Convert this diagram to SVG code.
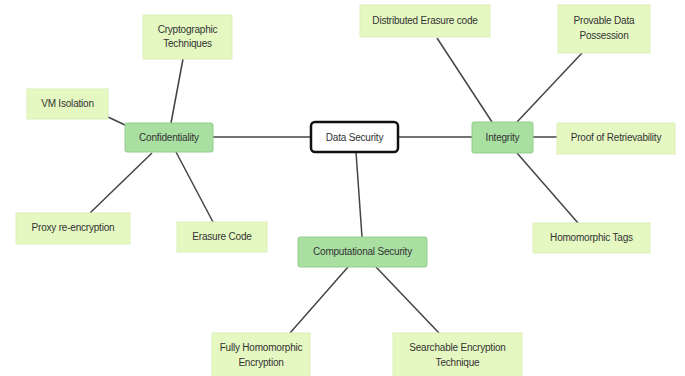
<svg xmlns="http://www.w3.org/2000/svg" width="685" height="376" viewBox="0 0 685 376">
<style>
.leaf{fill:#e5f8c2;stroke:#dcefb8;stroke-width:1}
.mid{fill:#a9e0a2;stroke:#92cc8c;stroke-width:1}
.root{fill:#fff;stroke:#111;stroke-width:2.5}
text{font-family:"Liberation Sans",Arial,sans-serif;font-size:10px;fill:#333;text-anchor:middle;letter-spacing:-0.2px}
.con line{stroke:#444;stroke-width:1.5}
</style>
<rect width="685" height="376" fill="#fff"/>
<g class="con">
<line x1="213" y1="137" x2="311" y2="137"/>
<line x1="398" y1="137" x2="472" y2="137"/>
<line x1="356" y1="152" x2="362" y2="237"/>
<line x1="171" y1="123" x2="183" y2="59"/>
<line x1="108" y1="117" x2="125" y2="125"/>
<line x1="152" y1="153" x2="90" y2="213"/>
<line x1="176" y1="152" x2="213" y2="222"/>
<line x1="348" y1="267" x2="290" y2="333"/>
<line x1="376" y1="267" x2="439" y2="333"/>
<line x1="492" y1="122" x2="437" y2="38"/>
<line x1="517" y1="122" x2="582" y2="53"/>
<line x1="533" y1="137" x2="557" y2="137"/>
<line x1="517" y1="153" x2="578" y2="223"/>
</g>
<g id="data-security"><rect class="root" x="311" y="122" width="87" height="30" rx="4"/><text x="354.5" y="141">Data Security</text></g>
<g id="confidentiality"><rect class="mid" x="125" y="123" width="88" height="29" rx="2"/><text x="169" y="141">Confidentiality</text></g>
<g id="integrity"><rect class="mid" x="472" y="122" width="61" height="31" rx="2"/><text x="502.5" y="141">Integrity</text></g>
<g id="computational-security"><rect class="mid" x="298" y="237" width="129" height="30" rx="2"/><text x="362.5" y="255">Computational Security</text></g>
<g id="cryptographic"><rect class="leaf" x="143" y="15" width="89" height="44"/><text x="187.5" y="33">Cryptographic</text><text x="187.5" y="47">Techniques</text></g>
<g id="vm-isolation"><rect class="leaf" x="27" y="89" width="81" height="30"/><text x="67.5" y="107">VM Isolation</text></g>
<g id="proxy"><rect class="leaf" x="16" y="213" width="114" height="31"/><text x="73" y="231">Proxy re-encryption</text></g>
<g id="erasure-code"><rect class="leaf" x="177" y="222" width="90" height="30"/><text x="222" y="240">Erasure Code</text></g>
<g id="fhe"><rect class="leaf" x="212" y="333" width="98" height="45"/><text x="261" y="351">Fully Homomorphic</text><text x="261" y="366">Encryption</text></g>
<g id="searchable"><rect class="leaf" x="393" y="333" width="129" height="45"/><text x="457.5" y="351">Searchable Encryption</text><text x="457.5" y="366">Technique</text></g>
<g id="distributed"><rect class="leaf" x="360" y="5" width="130" height="32"/><text x="425" y="24">Distributed Erasure code</text></g>
<g id="provable"><rect class="leaf" x="558" y="5" width="92" height="48"/><text x="604" y="24">Provable Data</text><text x="604" y="39">Possession</text></g>
<g id="proof"><rect class="leaf" x="557" y="123" width="118" height="31"/><text x="616" y="141">Proof of Retrievability</text></g>
<g id="homomorphic-tags"><rect class="leaf" x="533" y="223" width="117" height="30"/><text x="591.5" y="241">Homomorphic Tags</text></g>
</svg>
